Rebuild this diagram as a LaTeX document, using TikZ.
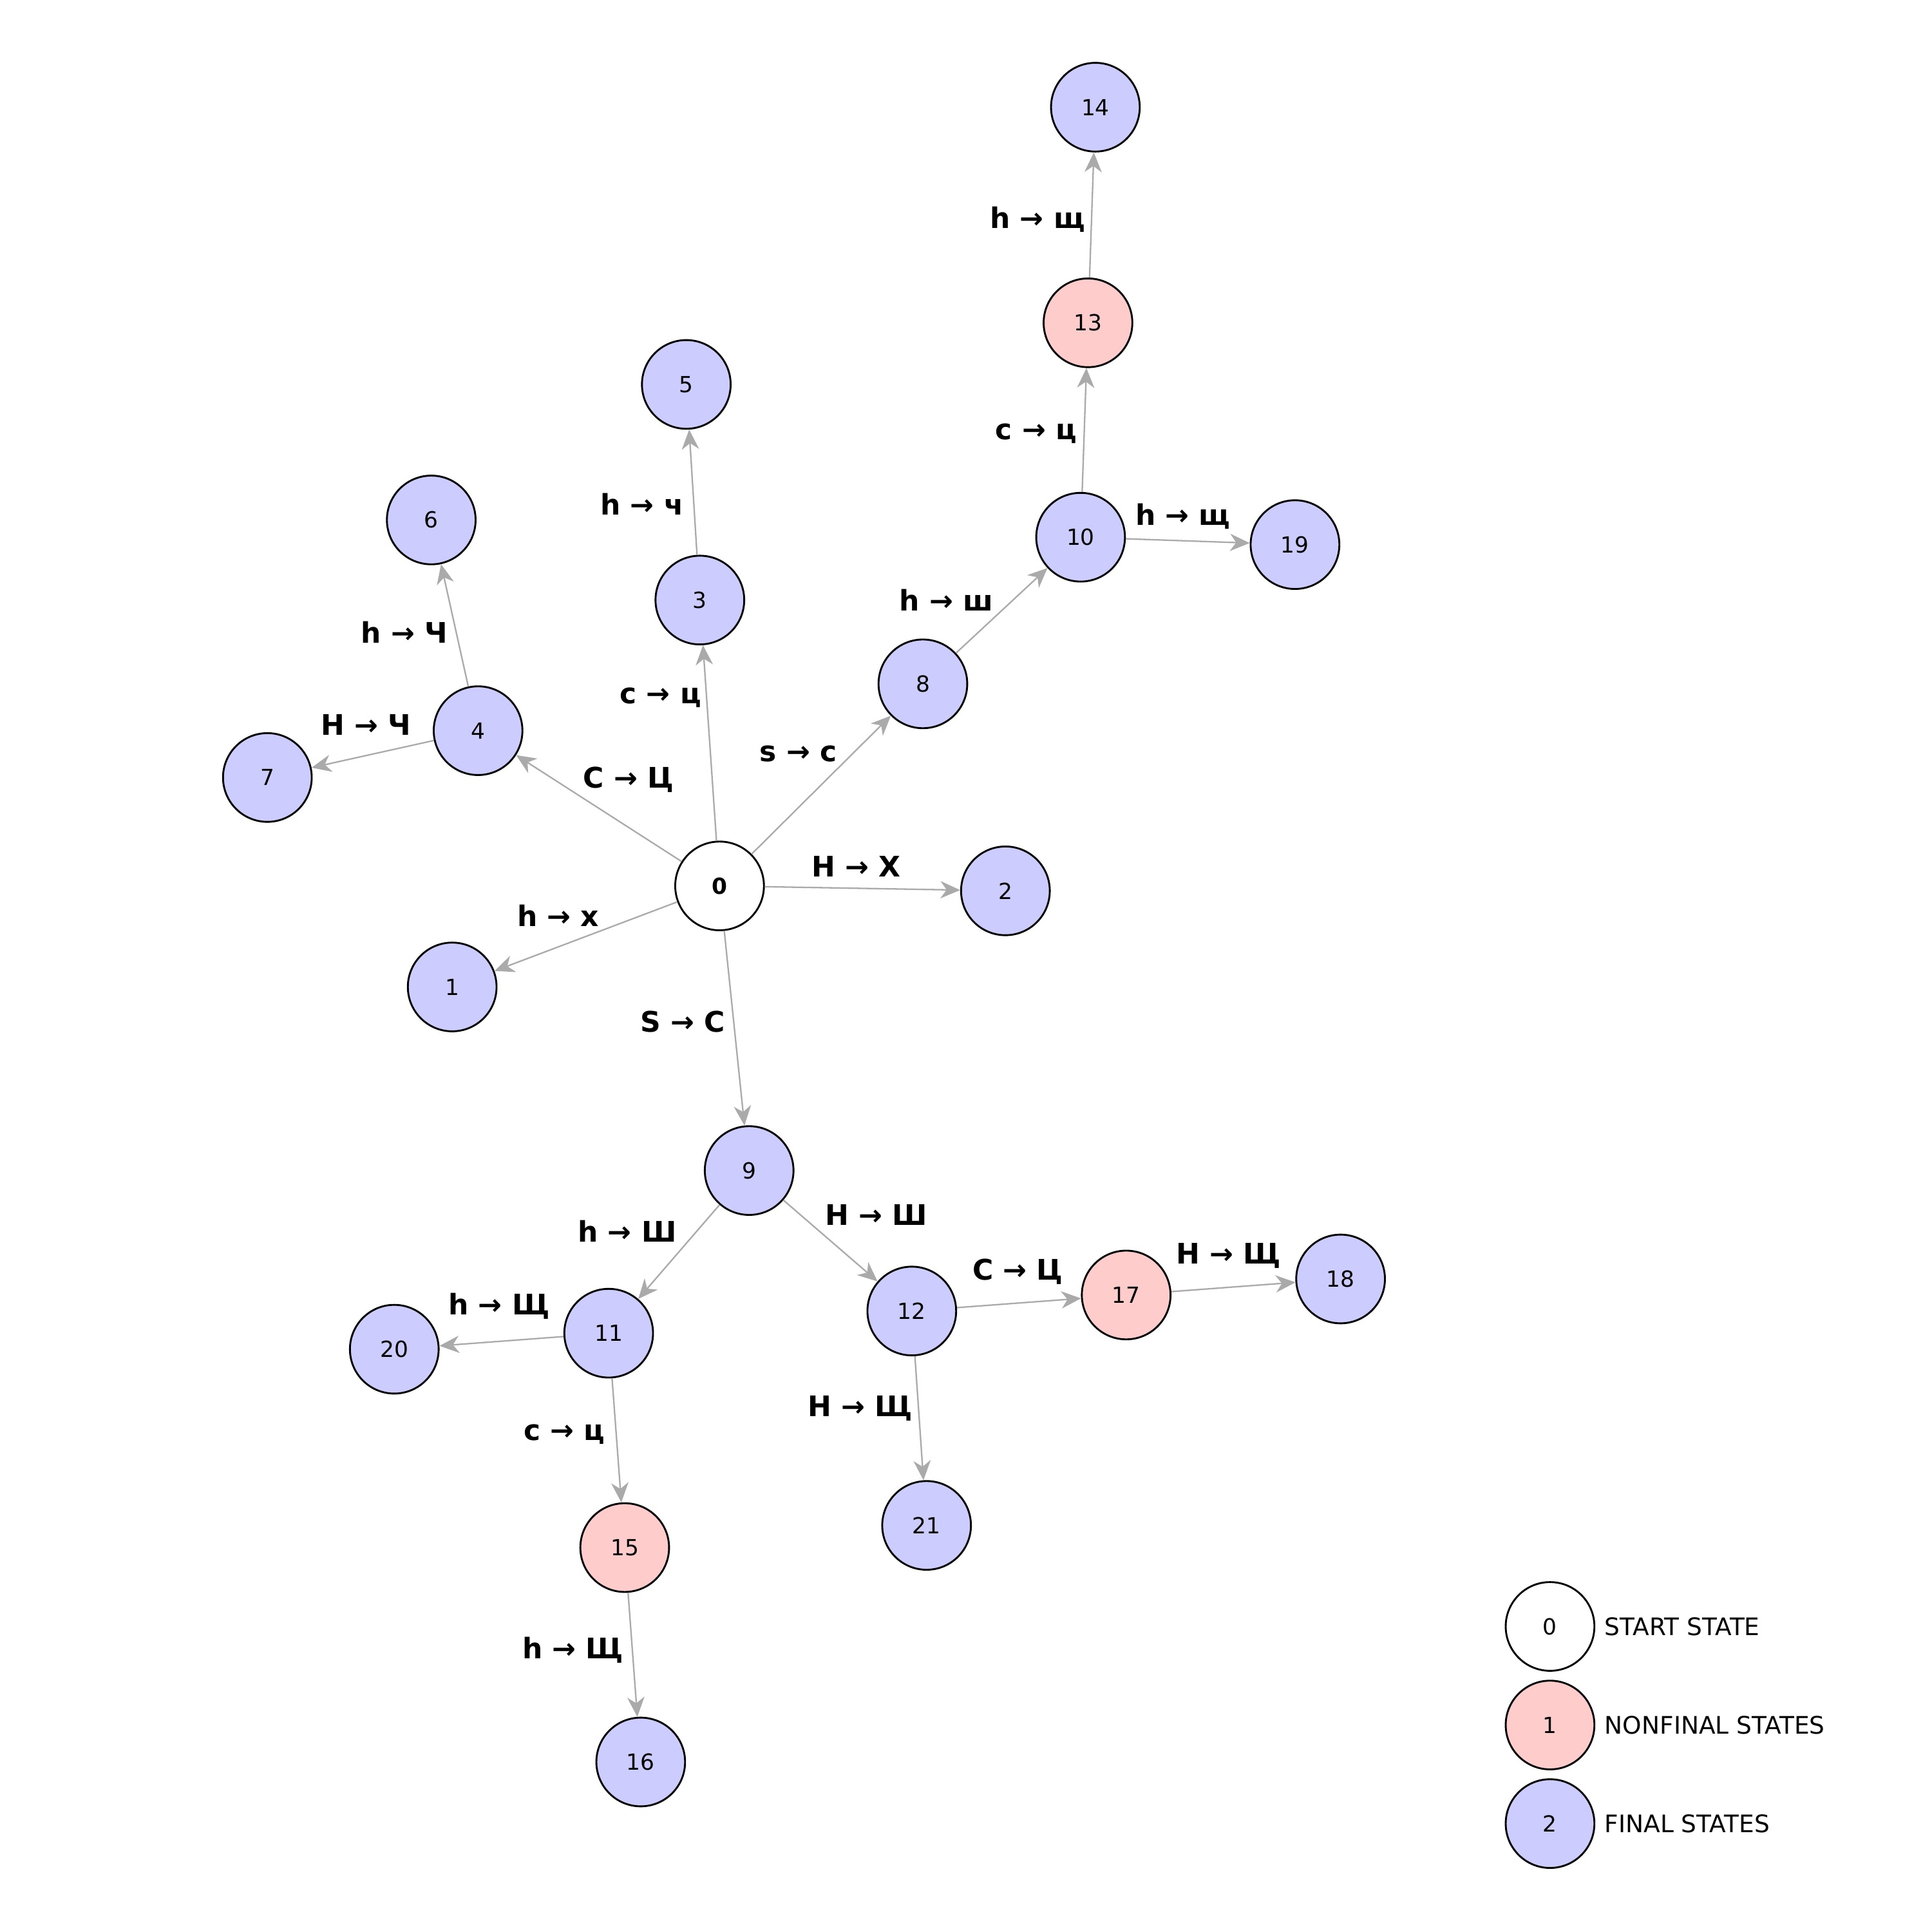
\documentclass[tikz,border=0pt]{standalone}
\usepackage{fontspec}
\setmainfont{DejaVu Sans}
\usetikzlibrary{arrows.meta}
\definecolor{finalc}{HTML}{CCCCFF}
\definecolor{nonfinalc}{HTML}{FFCCCC}
\definecolor{edgec}{HTML}{AAAAAA}
\begin{document}
\begin{tikzpicture}[x=0.5pt,y=-0.5pt,
  state/.style={circle,draw=black,line width=0.75pt,minimum size=36pt,inner sep=0pt,font=\fontsize{9}{10}\selectfont},
  fin/.style={state,fill=finalc},
  nonfin/.style={state,fill=nonfinalc},
  startst/.style={state,fill=white},
  lab/.style={font=\fontsize{11.5}{12}\selectfont\bfseries,inner sep=0pt},
  legtext/.style={font=\fontsize{9.8}{11}\selectfont,anchor=west,inner sep=0pt},
  tr/.style={draw=edgec,line width=0.6pt,-{Stealth[length=8pt,width=7pt,inset=2.5pt]}}]
\useasboundingbox (0,0) rectangle (1568,1568);
% states
\node[startst,font=\fontsize{9}{10}\selectfont\bfseries] (n0) at (584,719) {0};
\node[fin] (n1) at (367,801) {1};
\node[fin] (n2) at (816,723) {2};
\node[fin] (n3) at (568,487) {3};
\node[fin] (n4) at (388,593) {4};
\node[fin] (n5) at (557,312) {5};
\node[fin] (n6) at (350,422) {6};
\node[fin] (n7) at (217,631) {7};
\node[fin] (n8) at (749,555) {8};
\node[fin] (n9) at (608,950) {9};
\node[fin] (n10) at (877,436) {10};
\node[fin] (n11) at (494,1082) {11};
\node[fin] (n12) at (740,1064) {12};
\node[nonfin] (n13) at (883,262) {13};
\node[fin] (n14) at (889,87) {14};
\node[nonfin] (n15) at (507,1256) {15};
\node[fin] (n16) at (520,1430) {16};
\node[nonfin] (n17) at (914,1051) {17};
\node[fin] (n18) at (1088,1038) {18};
\node[fin] (n19) at (1051,442) {19};
\node[fin] (n20) at (320,1095) {20};
\node[fin] (n21) at (752,1238) {21};
% transitions
\draw[tr] (n0) -- (n1);
\draw[tr] (n0) -- (n2);
\draw[tr] (n0) -- (n3);
\draw[tr] (n0) -- (n4);
\draw[tr] (n0) -- (n8);
\draw[tr] (n0) -- (n9);
\draw[tr] (n3) -- (n5);
\draw[tr] (n4) -- (n6);
\draw[tr] (n4) -- (n7);
\draw[tr] (n8) -- (n10);
\draw[tr] (n10) -- (n13);
\draw[tr] (n13) -- (n14);
\draw[tr] (n10) -- (n19);
\draw[tr] (n9) -- (n11);
\draw[tr] (n9) -- (n12);
\draw[tr] (n11) -- (n20);
\draw[tr] (n11) -- (n15);
\draw[tr] (n15) -- (n16);
\draw[tr] (n12) -- (n17);
\draw[tr] (n17) -- (n18);
\draw[tr] (n12) -- (n21);
% labels
\node[lab] (l01) at (453,743) {h → x};
\node[lab] (l02) at (695,703) {H → X};
\node[lab] (l04) at (510,633) {C → Ц};
\node[lab] (l03) at (536,566) {c → ц};
\node[lab] (l08) at (648,612) {s → c};
\node[lab] (l09) at (554,829) {S → C};
\node[lab] (l35) at (521,409) {h → ч};
\node[lab] (l46) at (328,513) {h → Ч};
\node[lab] (l47) at (297,588) {H → Ч};
\node[lab] (l810) at (768,487) {h → ш};
\node[lab] (l1013) at (841,352) {c → ц};
\node[lab] (l1314) at (842,178) {h → щ};
\node[lab] (l1019) at (960,419) {h → щ};
\node[lab] (l911) at (509,999) {h → Ш};
\node[lab] (l912) at (711,986) {H → Ш};
\node[lab] (l1120) at (405,1060) {h → Щ};
\node[lab] (l1115) at (458,1164) {c → ц};
\node[lab] (l1217) at (826,1032) {C → Ц};
\node[lab] (l1718) at (997,1019) {H → Щ};
\node[lab] (l1221) at (698,1143) {H → Щ};
\node[lab] (l1516) at (465,1339) {h → Щ};
% legend
\node[startst] (k0) at (1258,1320) {0};
\node[nonfin] (k1) at (1258,1400) {1};
\node[fin] (k2) at (1258,1480) {2};
\node[legtext] (t0) at (1302,1320) {START STATE};
\node[legtext] (t1) at (1302,1400) {NONFINAL STATES};
\node[legtext] (t2) at (1302,1480) {FINAL STATES};
\end{tikzpicture}
\end{document}
